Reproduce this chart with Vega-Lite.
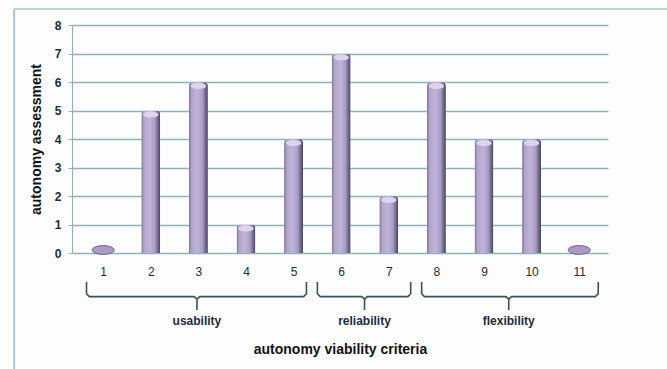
{
  "$schema": "https://vega.github.io/schema/vega-lite/v6.json",
  "autosize": {"type": "none"},
  "width": 536,
  "height": 228,
  "padding": {"left": 72, "top": 25, "right": 59, "bottom": 116},
  "background": "#fdfdfd",
  "config": {
    "view": {"stroke": null},
    "font": "Liberation Sans"
  },
  "datasets": {
    "bars": [
      {"criterion": 1, "value": 0},
      {"criterion": 2, "value": 5},
      {"criterion": 3, "value": 6},
      {"criterion": 4, "value": 1},
      {"criterion": 5, "value": 4},
      {"criterion": 6, "value": 7},
      {"criterion": 7, "value": 2},
      {"criterion": 8, "value": 6},
      {"criterion": 9, "value": 4},
      {"criterion": 10, "value": 4},
      {"criterion": 11, "value": 0}
    ],
    "braces": [
      {"seg": "u1", "ord": 1, "bx": 0.65, "by": -1.02},
      {"seg": "u1", "ord": 2, "bx": 0.65, "by": -1.43},
      {"seg": "u1", "ord": 3, "bx": 0.71, "by": -1.53},
      {"seg": "u1", "ord": 4, "bx": 2.91, "by": -1.53},
      {"seg": "u1", "ord": 5, "bx": 2.97, "by": -1.62},
      {"seg": "u1", "ord": 6, "bx": 2.97, "by": -2.0},
      {"seg": "u2", "ord": 1, "bx": 5.27, "by": -1.02},
      {"seg": "u2", "ord": 2, "bx": 5.27, "by": -1.43},
      {"seg": "u2", "ord": 3, "bx": 5.21, "by": -1.53},
      {"seg": "u2", "ord": 4, "bx": 3.03, "by": -1.53},
      {"seg": "u2", "ord": 5, "bx": 2.97, "by": -1.62},
      {"seg": "r1", "ord": 1, "bx": 5.5, "by": -1.02},
      {"seg": "r1", "ord": 2, "bx": 5.5, "by": -1.43},
      {"seg": "r1", "ord": 3, "bx": 5.56, "by": -1.53},
      {"seg": "r1", "ord": 4, "bx": 6.43, "by": -1.53},
      {"seg": "r1", "ord": 5, "bx": 6.49, "by": -1.62},
      {"seg": "r1", "ord": 6, "bx": 6.49, "by": -2.0},
      {"seg": "r2", "ord": 1, "bx": 7.46, "by": -1.02},
      {"seg": "r2", "ord": 2, "bx": 7.46, "by": -1.43},
      {"seg": "r2", "ord": 3, "bx": 7.4, "by": -1.53},
      {"seg": "r2", "ord": 4, "bx": 6.55, "by": -1.53},
      {"seg": "r2", "ord": 5, "bx": 6.49, "by": -1.62},
      {"seg": "f1", "ord": 1, "bx": 7.69, "by": -1.02},
      {"seg": "f1", "ord": 2, "bx": 7.69, "by": -1.43},
      {"seg": "f1", "ord": 3, "bx": 7.75, "by": -1.53},
      {"seg": "f1", "ord": 4, "bx": 9.46, "by": -1.53},
      {"seg": "f1", "ord": 5, "bx": 9.52, "by": -1.62},
      {"seg": "f1", "ord": 6, "bx": 9.52, "by": -2.0},
      {"seg": "f2", "ord": 1, "bx": 11.4, "by": -1.02},
      {"seg": "f2", "ord": 2, "bx": 11.4, "by": -1.43},
      {"seg": "f2", "ord": 3, "bx": 11.34, "by": -1.53},
      {"seg": "f2", "ord": 4, "bx": 9.58, "by": -1.53},
      {"seg": "f2", "ord": 5, "bx": 9.52, "by": -1.62}
    ],
    "groups": [
      {"group": "usability", "gx": 2.97, "gy": -2.4},
      {"group": "reliability", "gx": 6.49, "gy": -2.4},
      {"group": "flexibility", "gx": 9.52, "gy": -2.4}
    ],
    "frameH": [{"fx": -0.87, "fx2": 13.0, "fy": 8.56}],
    "frameV": [{"fx": -0.87, "fy": 8.56, "fy2": -4.5}]
  },
  "layer": [
    {
      "data": {"name": "bars"},
      "transform": [{"filter": "datum.value > 0"}],
      "mark": {
        "type": "bar",
        "size": 19,
        "cornerRadiusTopLeft": 4,
        "cornerRadiusTopRight": 4,
        "color": {
          "gradient": "linear",
          "x1": 0, "x2": 1, "y1": 0, "y2": 0,
          "stops": [
            {"offset": 0, "color": "#7e7098"},
            {"offset": 0.15, "color": "#b3a5cd"},
            {"offset": 0.45, "color": "#c0b4d9"},
            {"offset": 0.72, "color": "#aa9bc4"},
            {"offset": 0.88, "color": "#6f6588"},
            {"offset": 1, "color": "#3c4756"}
          ]
        }
      },
      "encoding": {
        "x": {
          "field": "criterion",
          "type": "quantitative",
          "scale": {"domain": [0.45, 11.5], "nice": false, "zero": false},
          "axis": {
            "values": [1, 2, 3, 4, 5, 6, 7, 8, 9, 10, 11],
            "tickCount": 12,
            "format": "d",
            "grid": false,
            "ticks": false,
            "domain": false,
            "labelPadding": 13,
            "labelFontSize": 12,
            "labelColor": "#1c2a44",
            "title": "autonomy viability criteria",
            "titleFontSize": 14,
            "titleFontWeight": "bold",
            "titleColor": "#111111",
            "titlePadding": 65,
            "titleX": 268,
            "titleAnchor": "middle"
          }
        },
        "y": {
          "field": "value",
          "type": "quantitative",
          "scale": {"domain": [0, 8], "nice": false},
          "axis": {
            "values": [0, 1, 2, 3, 4, 5, 6, 7, 8],
            "tickCount": 10,
            "labelOverlap": false,
            "grid": true,
            "gridColor": "#8fb2ba",
            "gridWidth": 1.3,
            "domainColor": "#8fb2ba",
            "tickColor": "#8fb2ba",
            "tickSize": 4,
            "labelPadding": 7,
            "labelFontSize": 12,
            "labelFontWeight": "bold",
            "labelColor": "#1c2a44",
            "title": "autonomy assessment",
            "titleFontSize": 14,
            "titleFontWeight": "bold",
            "titleColor": "#111111",
            "titlePadding": 11
          }
        }
      }
    },
    {
      "data": {"name": "frameH"},
      "mark": {"type": "rule", "color": "#a9c6d2", "strokeWidth": 1.5},
      "encoding": {
        "x": {"field": "fx", "type": "quantitative"},
        "x2": {"field": "fx2"},
        "y": {"field": "fy", "type": "quantitative"}
      }
    },
    {
      "data": {"name": "frameV"},
      "mark": {"type": "rule", "color": "#a9c6d2", "strokeWidth": 2},
      "encoding": {
        "x": {"field": "fx", "type": "quantitative"},
        "y": {"field": "fy", "type": "quantitative"},
        "y2": {"field": "fy2"}
      }
    },
    {
      "data": {"name": "bars"},
      "transform": [{"filter": "datum.value > 0"}],
      "mark": {
        "type": "point",
        "shape": "M-1,0A1,0.4,0,1,0,1,0A1,0.4,0,1,0,-1,0Z",
        "size": 240,
        "filled": true,
        "color": "#ddd3ec",
        "opacity": 1,
        "yOffset": 4
      },
      "encoding": {
        "x": {"field": "criterion", "type": "quantitative"},
        "y": {"field": "value", "type": "quantitative"}
      }
    },
    {
      "data": {"name": "bars"},
      "transform": [{"filter": "datum.value == 0"}],
      "mark": {
        "type": "point",
        "shape": "M-1,0A1,0.4,0,1,0,1,0A1,0.4,0,1,0,-1,0Z",
        "size": 484,
        "filled": true,
        "color": "#a99bc6",
        "stroke": "#6d6490",
        "strokeWidth": 1,
        "opacity": 1,
        "yOffset": -3
      },
      "encoding": {
        "x": {"field": "criterion", "type": "quantitative"},
        "y": {"field": "value", "type": "quantitative"}
      }
    },
    {
      "data": {"name": "braces"},
      "mark": {"type": "line", "color": "#38525c", "strokeWidth": 1.6},
      "encoding": {
        "x": {"field": "bx", "type": "quantitative"},
        "y": {"field": "by", "type": "quantitative"},
        "detail": {"field": "seg"},
        "order": {"field": "ord"}
      }
    },
    {
      "data": {"name": "groups"},
      "mark": {"type": "text", "fontSize": 12, "fontWeight": "bold", "color": "#1c2a44", "font": "Liberation Sans"},
      "encoding": {
        "x": {"field": "gx", "type": "quantitative"},
        "y": {"field": "gy", "type": "quantitative"},
        "text": {"field": "group"}
      }
    }
  ]
}
